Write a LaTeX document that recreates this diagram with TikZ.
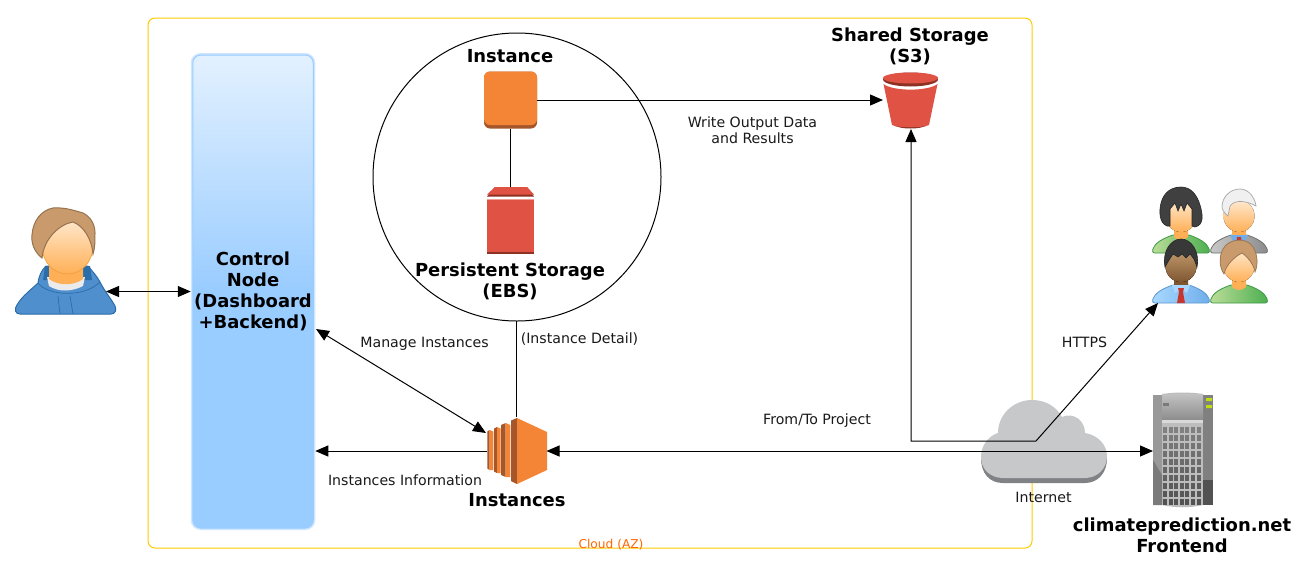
\documentclass[tikz,border=0pt]{standalone}
\usepackage{fontspec}
\setmainfont{DejaVu Sans}
\usetikzlibrary{arrows.meta,shapes.geometric}
\definecolor{azline}{HTML}{FFCC00}
\definecolor{azlabel}{HTML}{FF6600}
\definecolor{ctrlblue}{HTML}{99CCFF}
\definecolor{ctrltop}{HTML}{E3F1FF}
\definecolor{ctrlglow}{HTML}{CFE6FF}
\definecolor{awsorange}{HTML}{F58536}
\definecolor{awsbrown}{HTML}{A5562B}
\definecolor{awsred}{HTML}{E05243}
\definecolor{awsdark}{HTML}{8C3123}
\definecolor{cloudlight}{HTML}{C7C8CA}
\definecolor{clouddark}{HTML}{808285}
\definecolor{facetop}{HTML}{FFE9D0}
\definecolor{facemid}{HTML}{FFCB8A}
\definecolor{facelow}{HTML}{FFB056}
\definecolor{faceline}{HTML}{F0A040}
\definecolor{darkface}{HTML}{7E5630}
\definecolor{darktop}{HTML}{C49B6E}
\definecolor{hairbrown}{HTML}{C99B6C}
\definecolor{hairline}{HTML}{96724E}
\definecolor{hoodblue}{HTML}{4F8FCE}
\definecolor{hoodline}{HTML}{2A6DA8}
\definecolor{greenlow}{HTML}{4DAF50}
\definecolor{greentop}{HTML}{BBDD99}
\definecolor{greenline}{HTML}{3E9A45}
\definecolor{shirtlow}{HTML}{6FAEEA}
\definecolor{shirttop}{HTML}{A8D8FF}
\definecolor{shirtline}{HTML}{5C98D0}
\definecolor{vestlow}{HTML}{8C8C8C}
\definecolor{vesttop}{HTML}{C8C8C8}
\definecolor{vestline}{HTML}{707070}
\definecolor{tiered}{HTML}{C8372D}
\pgfdeclareverticalshading{ctrlshade}{100bp}{color(0bp)=(ctrlblue); color(50bp)=(ctrlblue); color(75bp)=(ctrltop); color(100bp)=(ctrltop)}
\tikzset{
  anchorbox/.style={inner sep=0pt,outer sep=0pt},
  linklabel/.style={font=\fontsize{14.15}{16}\selectfont,align=center,text=black!90,anchor=center},
  titlelabel/.style={font=\fontsize{17.95}{21}\selectfont\bfseries,align=center,anchor=center},
  pics/person/.style n args={4}{code={
    \path[left color=#1,right color=#2,draw=#3,line width=.8pt]
      (-26,0) .. controls (-29,0) and (-29,-3) .. (-27,-6) .. controls (-24,-12) and (-14,-16) .. (-8,-18)
      -- (8,-18) .. controls (14,-16) and (24,-12) .. (27,-6) .. controls (29,-3) and (29,0) .. (26,0) -- cycle;
    \fill[#4] (-7,-28) -- (-7,-16) .. controls (-3,-12) and (3,-12) .. (7,-16) -- (7,-28) -- cycle;
    \fill[top color=facetop,bottom color=#4] (0,-37) ellipse (15.5 and 16);
  }}
}
\begin{document}
\begin{tikzpicture}[x=1pt,y=-1pt,line width=1pt,>={Triangle[length=13pt,width=11pt]}]
  \useasboundingbox (0,0) rectangle (1309,574);
  \fill[white] (0,0) rectangle (1309,574);
  \node[anchorbox,draw=azline,rounded corners=7pt,minimum width=884pt,minimum height=530pt] (az) at (590,283) {};
  \node[font=\fontsize{12.2}{13}\selectfont,text=azlabel] (azlabel) at (611,544.5) {Cloud (AZ)};
  \node[anchorbox,circle,draw,fill=white,minimum size=288pt] (storage) at (517,177) {};

  \node[anchorbox,outer sep=2pt,rounded corners=8pt,shading=ctrlshade,draw=ctrlblue,text width=120.5pt,minimum height=473pt,
    preaction={draw=ctrlglow,line width=4pt},titlelabel] (control) at (253,291.5) {Control\\Node\\(Dashboard\\+Backend)};

  \node[anchorbox,minimum width=80pt,minimum height=106pt] (user) at (66,261) {};
  \path[fill=hoodblue,draw=hoodline] (20,314) .. controls (15,314) and (14,309) .. (17,305) .. controls (22,296) and (32,289) .. (38,283)
    .. controls (39,276) and (41,271) .. (46,266) -- (88,266) .. controls (92,271) and (97,276) .. (100,282)
    .. controls (105,292) and (112,300) .. (115,306) .. controls (117,310) and (115,314) .. (111,314) -- cycle;
  \fill[hoodline] (45,266) -- (90,266) -- (92,280) -- (43,280) -- cycle;
  \draw[hoodline,line width=.7pt] (58,296) -- (60,314) (70,296) -- (73,314) (38,283) .. controls (48,296) and (84,298) .. (100,282);
  \fill[white!92!black] (47,277) -- (85,277) -- (83,286) .. controls (72,292) and (58,292) .. (49,286) -- cycle;
  \fill[facelow] (49,262) -- (49,279) .. controls (58,286) and (74,286) .. (83,279) -- (83,262) -- cycle;
  \path[top color=facetop,middle color=facemid,bottom color=facelow,draw=faceline,line width=.7pt] (67.5,246) ellipse (25.5 and 28);
  \path[fill=hairbrown,draw=hairline] (42,258) .. controls (34,252) and (31,242) .. (32,235) .. controls (33,220) and (42,210) .. (53,208)
    .. controls (65,207) and (76,211) .. (83,213) .. controls (91,217) and (95,225) .. (95,233) .. controls (95,241) and (95,248) .. (93,254)
    .. controls (92,240) and (84,226) .. (73,222) .. controls (60,224) and (44,238) .. (42,258) -- cycle;

  \pic at (1181,253) {person={greentop}{greenlow}{greenline}{facelow}};
  \path[fill=black!75,draw=black!85,line width=.6pt,shift={(1181,253)}] (-14,-27) .. controls (-22,-30) and (-22,-42) .. (-20,-50)
    .. controls (-17,-62) and (-8,-66) .. (0,-66) .. controls (10,-66) and (16,-58) .. (19,-48) .. controls (22,-38) and (23,-28) .. (14,-26)
    -- (11,-27) -- (11,-44) -- (6,-50) -- (3,-42) -- (0,-49) -- (-3,-42) -- (-6,-50) -- (-11,-44) -- (-11,-27) -- cycle;
  \pic at (1239,253) {person={vesttop}{vestlow}{vestline}{facelow}};
  \begin{scope}[shift={(1239,253)}]
    \fill[shirtlow] (-9,-18) -- (9,-18) -- (3,-6) -- (-3,-6) -- cycle;
    \fill[tiered] (-2,-16) -- (2,-16) -- (3,-7) -- (-3,-7) -- cycle;
    \path[fill=black!6,draw=black!35,line width=.7pt] (-11,-37) .. controls (-15,-40) and (-17,-44) .. (-17,-46) .. controls (-17,-56) and (-9,-64) .. (1,-64)
      .. controls (10,-64) and (16,-55) .. (17,-47) .. controls (8,-52) and (-4,-54) .. (-9,-47) -- cycle;
  \end{scope}
  \pic at (1181,303) {person={shirttop}{shirtlow}{shirtline}{darkface}};
  \begin{scope}[shift={(1181,303)}]
    \fill[top color=darktop,bottom color=darkface] (0,-37) ellipse (15.5 and 16);
    \fill[shirttop] (-9,-18) -- (9,-18) -- (6,-10) -- (0,-14) -- (-6,-10) -- cycle;
    \fill[tiered] (-3,-15) -- (3,-15) -- (2,-11) -- (4,0) -- (-4,0) -- (-2,-11) -- cycle;
    \path[fill=black!78,draw=black!85,line width=.6pt] (-16,-36) .. controls (-19,-52) and (-10,-64) .. (0,-64) .. controls (10,-64) and (19,-52) .. (16,-36)
      -- (13,-44) -- (9,-49) -- (5,-45) -- (1,-49) -- (-3,-46) -- (-8,-49) -- (-12,-43) -- cycle;
  \end{scope}
  \pic at (1239,303) {person={greentop}{greenlow}{greenline}{facelow}};
  \path[fill=hairbrown,draw=hairline,line width=.7pt,shift={(1239,303)}] (-15,-29) .. controls (-20,-36) and (-20,-47) .. (-16,-54)
    .. controls (-10,-65) and (8,-66) .. (14,-56) .. controls (19,-48) and (19,-38) .. (16,-31)
    .. controls (15,-38) and (9,-46) .. (3,-50) .. controls (-5,-46) and (-13,-38) .. (-15,-29) -- cycle;
  \node[anchorbox,minimum width=104pt,minimum height=116pt] (users) at (1210,245) {};

  \node[anchorbox,rounded corners=6pt,fill=awsbrown,minimum width=53pt,minimum height=57pt] (instance) at (510.5,100) {};
  \fill[awsorange,rounded corners=6pt] (484,71.5) rectangle (537,125);

  \node[anchorbox,minimum width=47pt,minimum height=67pt] (ebs) at (510.5,220.5) {};
  \fill[awsdark] (487,196.5) -- (495,187) -- (527,187) -- (534,196.5) -- cycle;
  \fill[awsred] (487,194.5) -- (495,187) -- (527,187) -- (534,194.5) -- cycle;
  \fill[awsred!55] (487,198.5) rectangle (534,200);
  \fill[awsred] (487,200) rectangle (534,252);
  \fill[awsdark] (487,252) rectangle (534,254);

  \node[anchorbox,minimum width=56pt,minimum height=58pt] (s3) at (911,100) {};
  \fill[awsdark] (892,124) .. controls (898,130) and (923,130) .. (929,124) -- cycle;
  \fill[awsred] (883.5,84) -- (892,125) .. controls (898,128) and (923,128) .. (929,125) -- (937.5,84)
    .. controls (928,91.5) and (893,91.5) .. (883.5,84) -- cycle;
  \fill[awsdark] (910.5,79.5) ellipse (27.5 and 7);
  \fill[awsred] (910.5,78) ellipse (27.5 and 5.5);

  \node[anchorbox,minimum width=60pt,minimum height=69pt] (instances) at (516.5,451) {};
  \fill[awsbrown] (511,420.5) -- (517,418) -- (517,484) -- (511,481) -- cycle;
  \fill[awsorange] (517,418) -- (547,432) -- (547,470) -- (517,484) -- cycle;
  \fill[awsbrown] (501,425) -- (505.7,423) -- (505.7,477) -- (501,475) -- cycle;
  \fill[awsorange] (505.7,423) -- (510.4,425) -- (510.4,477) -- (505.7,477) -- cycle;
  \fill[awsbrown] (494,428.5) -- (497,427) -- (497,473) -- (494,471.5) -- cycle;
  \fill[awsorange] (497,427) -- (500.6,428.5) -- (500.6,473) -- (497,473) -- cycle;
  \fill[awsbrown] (487.3,431.5) -- (489.5,430) -- (489.5,470) -- (487.3,468.5) -- cycle;
  \fill[awsorange] (489.5,430) -- (493.4,431.5) -- (493.4,470) -- (489.5,470) -- cycle;

  \node[anchorbox,minimum width=126pt,minimum height=83pt] (cloud) at (1044,441.5) {};
  \fill[clouddark] (1003,483) .. controls (990,483) and (981,474) .. (981,458) -- (1107,458) .. controls (1107,474) and (1097,483) .. (1085,483) -- cycle;
  \fill[cloudlight] (1003,478) .. controls (990,478) and (981,469) .. (981,457) .. controls (981,446) and (988,436) .. (998,433)
    .. controls (998,414) and (1014,400) .. (1032,400) .. controls (1045,400) and (1056,406) .. (1062,417)
    .. controls (1073,412) and (1085,420) .. (1085,433) .. controls (1098,435) and (1107,445) .. (1107,456)
    .. controls (1107,469) and (1097,478) .. (1085,478) -- cycle;

  \node[anchorbox,minimum width=60pt,minimum height=115pt] (frontend) at (1183,451) {};
  \fill[black!26] (1162,394) .. controls (1175,392) and (1190,392) .. (1203,394) -- (1203,505) .. controls (1190,508) and (1175,508) .. (1162,505) -- cycle;
  \fill[black!40] (1153,395) rectangle (1162,505);
  \fill[black!52] (1153,460) -- (1162,475) -- (1162,505) -- (1153,505) -- cycle;
  \fill[black!50] (1203,395) rectangle (1213,505);
  \fill[black!68] (1203,480) rectangle (1213,505);
  \shade[top color=black!24,bottom color=black!45] (1162,394) rectangle (1203,420);
  \fill[black!15] (1162,420) rectangle (1203,423);
  \fill[black!52] (1163,403) rectangle (1169,406);
  \fill[yellow!75!green] (1206,398) rectangle (1212,401) (1206,405) rectangle (1212,408);
  \foreach \col in {0,...,6}
    \foreach \row in {0,...,9} {
      \pgfmathsetmacro\tone{50+2*\row}
      \fill[black!\tone] (1163+5.6*\col,427+8*\row) rectangle +(3.9,5.6);
    }

  \coordinate (hub) at (1036,441);
  \draw[<->] (user.east |- control.west) -- (control.west);
  \draw[<->] (316,329) -- (486,433);
  \draw[->] (instances.west) -- (control.east |- instances.west);
  \draw[->] (instance.east) -- (s3.west);
  \draw (instance.south) -- (ebs.north);
  \draw (storage.south -| instances.north) -- (instances.north);
  \draw[<->] (instances.east) -- (frontend.west);
  \draw[<->] (s3.south) |- (hub) -- (users.south west);

  \node[titlelabel] (instancetxt) at (510,56) {Instance};
  \node[titlelabel] (ebstxt) at (510,281.5) {Persistent Storage\\(EBS)};
  \node[titlelabel] (s3txt) at (910,46) {Shared Storage\\(S3)};
  \node[titlelabel] (instancestxt) at (517,500) {Instances};
  \node[titlelabel] (frontendtxt) at (1182,535) {climateprediction.net\\Frontend};
  \node[linklabel] (writetxt) at (752.5,130) {Write Output Data\\and Results};
  \node[linklabel] (managetxt) at (424.5,344) {Manage Instances};
  \node[linklabel] (infotxt) at (405,480.5) {Instances Information};
  \node[linklabel] (detailtxt) at (579.5,339) {(Instance Detail)};
  \node[linklabel] (httpstxt) at (1084.5,342) {HTTPS};
  \node[linklabel] (projecttxt) at (817,421) {From/To Project};
  \node[linklabel] (internettxt) at (1043.5,497.5) {Internet};
\end{tikzpicture}
\end{document}
